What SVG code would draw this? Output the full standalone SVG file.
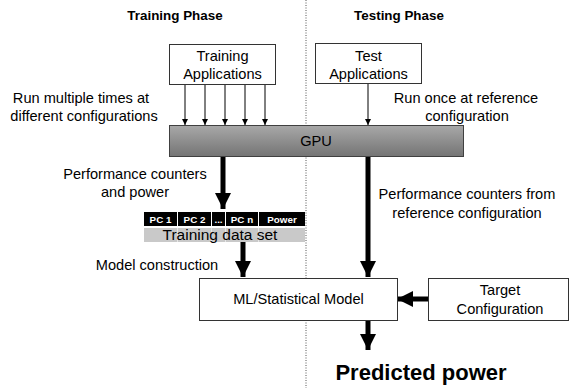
<svg xmlns="http://www.w3.org/2000/svg" width="569" height="388" viewBox="0 0 569 388">
  <defs>
    <linearGradient id="gpuFill" x1="0" y1="0" x2="0" y2="1">
      <stop offset="0" stop-color="#a8a8a8"/>
      <stop offset="1" stop-color="#747474"/>
    </linearGradient>
    <marker id="thin" viewBox="0 0 6 6" refX="6" refY="3" markerWidth="6" markerHeight="6" markerUnits="userSpaceOnUse" orient="auto">
      <path d="M0,0 L6,3 L0,6 Z" fill="#000"/>
    </marker>
    <marker id="thick" viewBox="0 0 16 16" refX="16" refY="8" markerWidth="16" markerHeight="16" markerUnits="userSpaceOnUse" orient="auto">
      <path d="M0,0 L16,8 L0,16 Z" fill="#000"/>
    </marker>
  </defs>
  <style>
    text { font-family: "Liberation Sans", Arial, sans-serif; fill: #000; }
    .lbl { font-size: 14.6px; }
    .head { font-size: 13.4px; font-weight: bold; }
    .box { fill: #fff; stroke: #333; stroke-width: 1; }
    .thin { stroke: #000; stroke-width: 1; fill: none; marker-end: url(#thin); }
    .thick { stroke: #000; stroke-width: 5; fill: none; marker-end: url(#thick); }
    .cell { fill: #000; }
    .cellt { font-size: 9.8px; font-weight: bold; fill: #fff; }
  </style>

  <!-- phase divider -->
  <line x1="306" y1="0" x2="306" y2="388" stroke="#555" stroke-width="1" stroke-dasharray="1,1.5"/>

  <!-- phase headings -->
  <text class="head" x="175" y="20" text-anchor="middle">Training Phase</text>
  <text class="head" x="399" y="20" text-anchor="middle">Testing Phase</text>

  <!-- side labels -->
  <text class="lbl" x="81" y="103" text-anchor="middle">Run multiple times at</text>
  <text class="lbl" x="84" y="121" text-anchor="middle">different configurations</text>
  <text class="lbl" x="466" y="103" text-anchor="middle">Run once at reference</text>
  <text class="lbl" x="467" y="121" text-anchor="middle">configuration</text>
  <text class="lbl" x="135" y="179" text-anchor="middle">Performance counters</text>
  <text class="lbl" x="135" y="197" text-anchor="middle">and power</text>
  <text class="lbl" x="157" y="270" text-anchor="middle">Model construction</text>
  <text class="lbl" x="467" y="199" text-anchor="middle">Performance counters from</text>
  <text class="lbl" x="467" y="218" text-anchor="middle">reference configuration</text>

  <!-- connectors -->
  <g id="connectors">
    <line class="thin" x1="185" y1="84" x2="185" y2="125"/>
    <line class="thin" x1="205" y1="84" x2="205" y2="125"/>
    <line class="thin" x1="225" y1="84" x2="225" y2="125"/>
    <line class="thin" x1="245" y1="84" x2="245" y2="125"/>
    <line class="thin" x1="265" y1="84" x2="265" y2="125"/>
    <line class="thin" x1="368" y1="84" x2="368" y2="125"/>
    <line class="thick" x1="223" y1="157" x2="223" y2="209"/>
    <line class="thick" x1="368" y1="157" x2="368" y2="277"/>
    <line class="thick" x1="243" y1="242" x2="243" y2="277"/>
    <line class="thick" x1="428" y1="299" x2="397" y2="299"/>
    <line class="thick" x1="368" y1="321" x2="368" y2="350"/>
  </g>

  <g id="training-apps">
    <rect class="box" x="169.5" y="44.5" width="106" height="40"/>
    <text class="lbl" x="222.5" y="61" text-anchor="middle">Training</text>
    <text class="lbl" x="222.5" y="79" text-anchor="middle">Applications</text>
  </g>

  <g id="test-apps">
    <rect class="box" x="315.5" y="43.5" width="106" height="40"/>
    <text class="lbl" x="368.5" y="61" text-anchor="middle">Test</text>
    <text class="lbl" x="368.5" y="79" text-anchor="middle">Applications</text>
  </g>

  <g id="gpu">
    <rect x="169.5" y="125.5" width="294" height="31" fill="url(#gpuFill)" stroke="#404040" stroke-width="1"/>
    <text class="lbl" x="316" y="146" text-anchor="middle">GPU</text>
  </g>

  <g id="training-data">
    <rect x="144" y="228" width="161" height="14" fill="#c9c9c9"/>
    <g stroke="#e6e6e6" stroke-width="1">
      <line x1="177.5" y1="228" x2="177.5" y2="242"/>
      <line x1="211.5" y1="228" x2="211.5" y2="242"/>
      <line x1="225.5" y1="228" x2="225.5" y2="242"/>
      <line x1="258.5" y1="228" x2="258.5" y2="242"/>
    </g>
    <rect class="cell" x="144" y="212" width="33" height="14"/>
    <rect class="cell" x="178" y="212" width="33" height="14"/>
    <rect class="cell" x="212" y="212" width="13" height="14"/>
    <rect class="cell" x="226" y="212" width="32" height="14"/>
    <rect class="cell" x="259" y="212" width="46" height="14"/>
    <text class="cellt" x="160.5" y="223" text-anchor="middle">PC 1</text>
    <text class="cellt" x="194.5" y="223" text-anchor="middle">PC 2</text>
    <text class="cellt" x="218.5" y="223" text-anchor="middle">...</text>
    <text class="cellt" x="242" y="223" text-anchor="middle">PC n</text>
    <text class="cellt" x="282" y="223" text-anchor="middle">Power</text>
    <text x="220" y="240" text-anchor="middle" font-size="15.5px">Training data set</text>
  </g>

  <g id="model">
    <rect class="box" x="199.5" y="278.5" width="198" height="42"/>
    <text class="lbl" x="298.5" y="304" text-anchor="middle">ML/Statistical Model</text>
  </g>

  <g id="target-config">
    <rect class="box" x="428.5" y="278.5" width="140" height="42"/>
    <text class="lbl" x="500" y="295" text-anchor="middle">Target</text>
    <text class="lbl" x="500" y="314" text-anchor="middle">Configuration</text>
  </g>

  <g id="prediction">
    <text x="421" y="380" text-anchor="middle" font-size="22px" font-weight="bold">Predicted power</text>
  </g>
</svg>
